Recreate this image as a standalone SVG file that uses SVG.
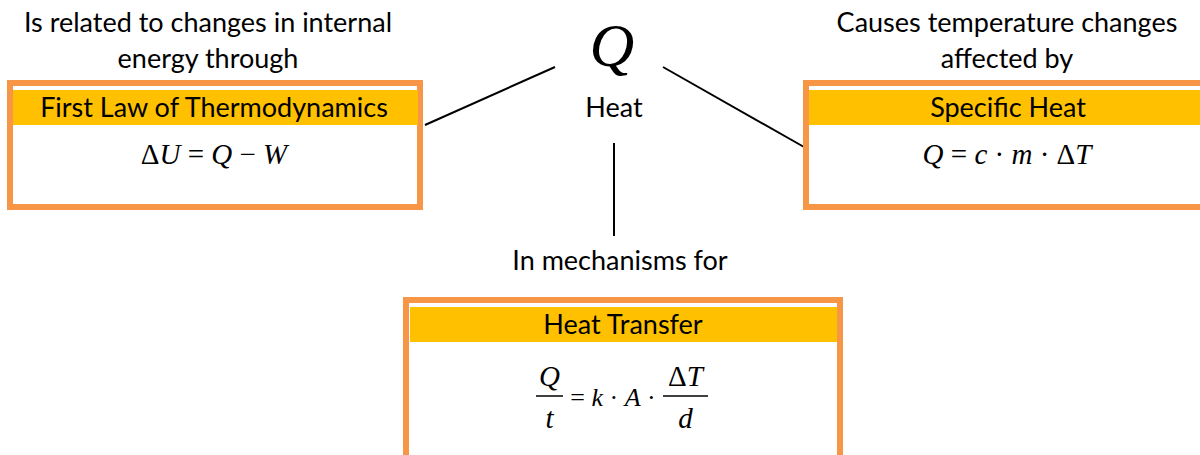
<svg xmlns="http://www.w3.org/2000/svg" width="1200" height="455" viewBox="0 0 1200 455">
<style>
.lbl{font-family:Lato,"Open Sans",sans-serif;font-size:27px;fill:#000;text-anchor:middle}
.box{fill:#fff;stroke:#F79646;stroke-width:6}
.band{fill:#FFC000}
.m{font-family:"Liberation Serif",serif;font-size:29px;fill:#000}
.ms{font-size:26px}
.mi{font-style:italic}
.conn{stroke:#000;stroke-width:2;fill:none}
</style>
<rect width="1200" height="455" fill="#fff"/>
<g id="connectors">
<line class="conn" x1="555" y1="67" x2="425" y2="125"/>
<line class="conn" x1="663" y1="67" x2="804" y2="147"/>
<line class="conn" x1="614" y1="143" x2="614" y2="236"/>
</g>
<g id="heat">
<text x="612" y="66" font-family="Liberation Serif,serif" font-style="italic" font-size="62" text-anchor="middle">Q</text>
<text class="lbl" x="614" y="117">Heat</text>
</g>
<g id="label-left">
<text class="lbl" x="208" y="32">Is related to changes in internal</text>
<text class="lbl" x="208" y="68">energy through</text>
</g>
<g id="label-right">
<text class="lbl" x="1007" y="32">Causes temperature changes</text>
<text class="lbl" x="1007" y="68">affected by</text>
</g>
<g id="label-bottom">
<text class="lbl" x="620" y="270">In mechanisms for</text>
</g>
<g id="first-law">
<rect class="box" x="10" y="83" width="410" height="124"/>
<rect class="band" x="13" y="90" width="405" height="35"/>
<text class="lbl" x="214" y="117">First Law of Thermodynamics</text>
<text class="m" x="214" y="164" text-anchor="middle">Δ<tspan class="mi">U</tspan> = <tspan class="mi">Q</tspan> − <tspan class="mi">W</tspan></text>
</g>
<g id="specific-heat">
<rect class="box" x="806" y="83" width="400" height="124"/>
<rect class="band" x="809" y="90" width="391" height="35"/>
<text class="lbl" x="1008" y="117">Specific Heat</text>
<text class="m" x="1007" y="164" text-anchor="middle"><tspan class="mi">Q</tspan> = <tspan class="mi">c</tspan> · <tspan class="mi">m</tspan> · Δ<tspan class="mi">T</tspan></text>
</g>
<g id="heat-transfer">
<rect class="box" x="406" y="300" width="434" height="170"/>
<rect class="band" x="410" y="307" width="427" height="35"/>
<text class="lbl" x="623" y="334">Heat Transfer</text>
<text class="m mi" x="549.5" y="386" text-anchor="middle">Q</text>
<line x1="536" y1="396" x2="563" y2="396" stroke="#000" stroke-width="1.5"/>
<text class="m mi" x="549.5" y="428" text-anchor="middle">t</text>
<text class="m ms" x="613" y="406" text-anchor="middle">= <tspan class="mi">k</tspan> · <tspan class="mi">A</tspan> ·</text>
<text class="m" x="685.5" y="386" text-anchor="middle">Δ<tspan class="mi">T</tspan></text>
<line x1="663" y1="396" x2="708" y2="396" stroke="#000" stroke-width="1.5"/>
<text class="m mi" x="685.5" y="428" text-anchor="middle">d</text>
</g>
</svg>
